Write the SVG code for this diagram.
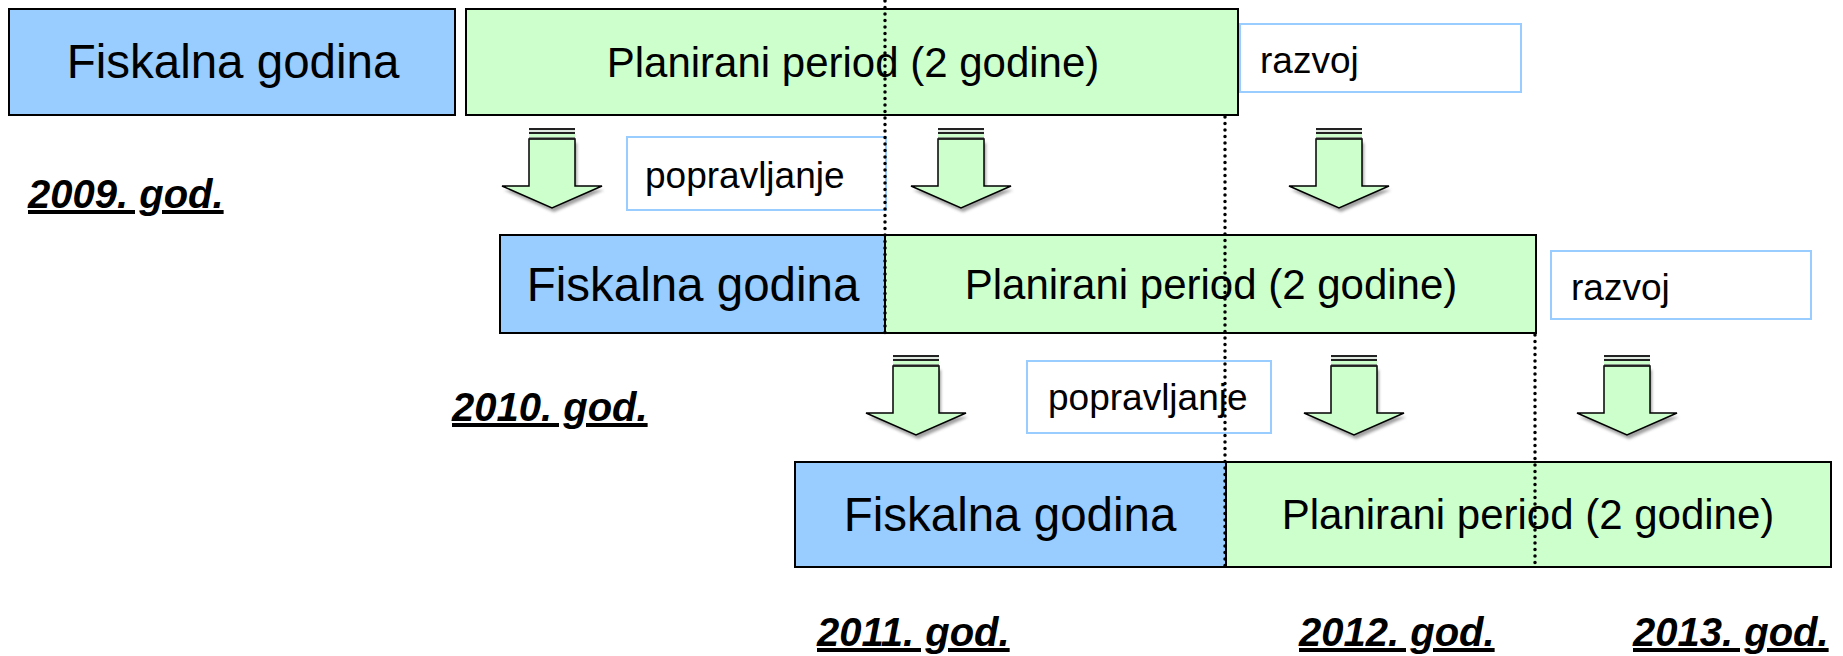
<svg xmlns="http://www.w3.org/2000/svg" xmlns:xlink="http://www.w3.org/1999/xlink" width="1843" height="656" viewBox="0 0 1843 656">
<style>
  text { font-family: "Liberation Sans", Arial, sans-serif; fill: #000; }
  .fy { fill: #99ccff; stroke: #000; stroke-width: 2; }
  .pp { fill: #ccffcc; stroke: #000; stroke-width: 2; }
  .note { fill: #fff; stroke: #99ccff; stroke-width: 2; }
  .tfy { font-size: 47.5px; text-anchor: middle; }
  .tpp { font-size: 42px; text-anchor: middle; }
  .tnote { font-size: 37px; }
  .year { font-size: 40px; font-weight: bold; font-style: italic; text-decoration: underline; }
  .guide { fill: none; stroke: #000; stroke-width: 3.5; stroke-linecap: round; stroke-dasharray: 0 6.5; }
</style>
<defs>
  <filter id="sh" x="-20%" y="-20%" width="140%" height="140%">
    <feGaussianBlur stdDeviation="1.5"/>
  </filter>
  <g id="arrow">
    <path d="M -23 11 L 23 11 L 23 58 L 50 58 L 0 80 L -50 58 L -23 58 Z" fill="#888" transform="translate(2,4)" filter="url(#sh)" opacity="0.8"/>
    <path d="M -23 11 L 23 11 L 23 58 L 50 58 L 0 80 L -50 58 L -23 58 Z" fill="#ccffcc" stroke="#000" stroke-width="1.5" stroke-linejoin="miter"/>
    <rect x="-23" y="0" width="46" height="2" fill="#222"/>
    <rect x="-23" y="2" width="46" height="2" fill="#dfe9df"/>
    <rect x="-23" y="4" width="46" height="2" fill="#222"/>
    <rect x="-23" y="6" width="46" height="3.5" fill="#ccffcc"/>
    <rect x="-23" y="9.5" width="46" height="2" fill="#222"/>
  </g>
</defs>
<rect x="0" y="0" width="1843" height="656" fill="#fff"/>

<!-- Row 1 -->
<g id="row1-fiscal">
  <rect class="fy" x="9" y="9" width="446" height="106"/>
  <text class="tfy" x="233" y="78">Fiskalna godina</text>
</g>
<g id="row1-plan">
  <rect class="pp" x="466" y="9" width="772" height="106"/>
  <text class="tpp" x="853" y="77">Planirani period (2 godine)</text>
</g>
<g id="row1-razvoj">
  <rect class="note" x="1240" y="24" width="281" height="68"/>
  <text class="tnote" x="1260" y="73">razvoj</text>
</g>
<g id="row1-popravljanje">
  <rect class="note" x="627" y="137" width="259" height="73"/>
  <text class="tnote" x="645" y="188">popravljanje</text>
</g>
<g id="year-2009">
  <text class="year" x="28" y="208">2009. god.</text>
</g>

<!-- Row 2 -->
<g id="row2-fiscal">
  <rect class="fy" x="500" y="235" width="385" height="98"/>
  <text class="tfy" x="693" y="301">Fiskalna godina</text>
</g>
<g id="row2-plan">
  <rect class="pp" x="885" y="235" width="651" height="98"/>
  <text class="tpp" x="1211" y="299">Planirani period (2 godine)</text>
</g>
<g id="row2-razvoj">
  <rect class="note" x="1551" y="251" width="260" height="68"/>
  <text class="tnote" x="1571" y="300">razvoj</text>
</g>
<g id="row2-popravljanje">
  <rect class="note" x="1027" y="361" width="244" height="72"/>
  <text class="tnote" x="1048" y="410">popravljanje</text>
</g>
<g id="year-2010">
  <text class="year" x="452" y="421">2010. god.</text>
</g>

<!-- Row 3 -->
<g id="row3-fiscal">
  <rect class="fy" x="795" y="462" width="431" height="105"/>
  <text class="tfy" x="1010" y="531">Fiskalna godina</text>
</g>
<g id="row3-plan">
  <rect class="pp" x="1226" y="462" width="605" height="105"/>
  <text class="tpp" x="1528" y="529">Planirani period (2 godine)</text>
</g>
<g id="year-2011"><text class="year" x="817" y="646">2011. god.</text></g>
<g id="year-2012"><text class="year" x="1299" y="646">2012. god.</text></g>
<g id="year-2013"><text class="year" x="1633" y="646">2013. god.</text></g>

<!-- Connectors -->
<g id="connectors">
  <use xlink:href="#arrow" x="552" y="128"/>
  <use xlink:href="#arrow" x="961" y="128"/>
  <use xlink:href="#arrow" x="1339" y="128"/>
  <use xlink:href="#arrow" x="916" y="355"/>
  <use xlink:href="#arrow" x="1354" y="355"/>
  <use xlink:href="#arrow" x="1627" y="355"/>
  <line class="guide" x1="885" y1="1" x2="885" y2="333"/>
  <line class="guide" x1="1225" y1="117" x2="1225" y2="567"/>
  <line class="guide" x1="1535" y1="335" x2="1535" y2="567"/>
</g>
</svg>
